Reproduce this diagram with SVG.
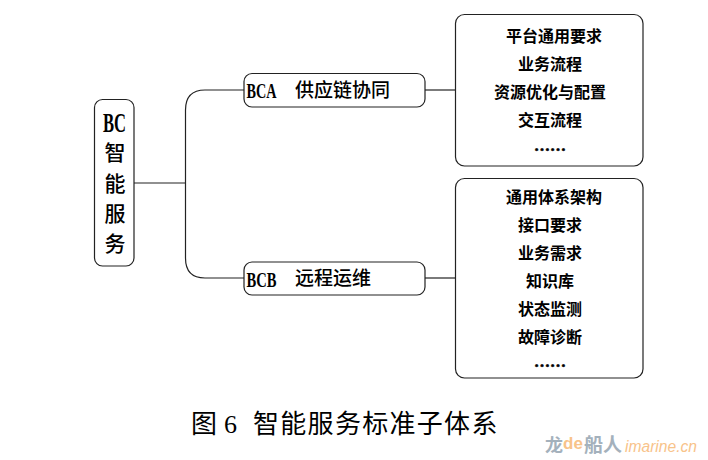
<svg xmlns="http://www.w3.org/2000/svg" width="708" height="460" viewBox="0 0 708 460">
  <style>
    .box { fill: #fff; stroke: #222; stroke-width: 1.2; }
    .link { fill: none; stroke: #222; stroke-width: 1.2; }
    text { font-family: "Noto Sans CJK SC", "Liberation Serif", sans-serif; fill: #000; }
    .latin { font-family: "Liberation Serif", serif; }
    .head { font-size: 21px; font-weight: 500; text-anchor: middle; }
    .branch { font-size: 19px; font-weight: 500; }
    .code { font-size: 21px; font-weight: 700; }
    .item { font-size: 16px; font-weight: 700; text-anchor: middle; }
    .dots { stroke: #000; stroke-width: 0.6; }
    .mark-grey { fill: #a4b1bc; font-weight: 700; }
    .mark-orange { font-family: "Liberation Sans", sans-serif; fill: #f8c38a; }
  </style>
  <rect width="708" height="460" fill="#fff"/>

  <g id="connectors">
    <path class="link" d="M134 183H185.5"/>
    <path class="link" d="M244 90H205Q185.5 90 185.5 110V258Q185.5 278 205 278H244"/>
    <path class="link" d="M425 90H455.5"/>
    <path class="link" d="M425 278H455.5"/>
  </g>

  <g id="node-bc">
    <rect class="box" x="94.5" y="99.5" width="39.5" height="166.5" rx="8"/>
    <text class="latin" x="103" y="132" font-size="27" font-weight="700" textLength="23" lengthAdjust="spacingAndGlyphs">BC</text>
    <text class="head" x="115" y="160">智</text>
    <text class="head" x="115" y="191">能</text>
    <text class="head" x="115" y="221">服</text>
    <text class="head" x="115" y="251">务</text>
  </g>

  <g id="node-bca">
    <rect class="box" x="244" y="73.5" width="181" height="33.5" rx="8"/>
    <text class="code latin" x="246.5" y="98" textLength="30" lengthAdjust="spacingAndGlyphs">BCA</text>
    <text class="branch" x="295" y="97">供应链协同</text>
  </g>

  <g id="node-bcb">
    <rect class="box" x="244" y="262" width="181" height="33" rx="8"/>
    <text class="code latin" x="246.5" y="286.5" textLength="30" lengthAdjust="spacingAndGlyphs">BCB</text>
    <text class="branch" x="295" y="285">远程运维</text>
  </g>

  <g id="node-bca-items">
    <rect class="box" x="455.5" y="14.5" width="187.5" height="151.5" rx="9"/>
    <text class="item" x="554" y="42">平台通用要求</text>
    <text class="item" x="550" y="70">业务流程</text>
    <text class="item" x="550" y="98">资源优化与配置</text>
    <text class="item" x="550" y="126">交互流程</text>
    <text class="item latin dots" x="550" y="151">……</text>
  </g>

  <g id="node-bcb-items">
    <rect class="box" x="455.5" y="178.5" width="187.5" height="199.5" rx="9"/>
    <text class="item" x="554" y="202.5">通用体系架构</text>
    <text class="item" x="550" y="230.5">接口要求</text>
    <text class="item" x="550" y="258.5">业务需求</text>
    <text class="item" x="550" y="286.5">知识库</text>
    <text class="item" x="550" y="314.5">状态监测</text>
    <text class="item" x="550" y="342.5">故障诊断</text>
    <text class="item latin dots" x="550" y="367">……</text>
  </g>

  <g id="caption">
    <text x="191" y="433" font-size="26">图</text>
    <text class="latin" x="224" y="433" font-size="26">6</text>
    <text x="253" y="433" font-size="26" letter-spacing="1.3">智能服务标准子体系</text>
  </g>

  <g id="site-mark">
    <text class="mark-grey" x="545" y="452" font-size="18">龙</text>
    <text class="mark-orange" x="563" y="449" font-size="17" font-weight="700">de</text>
    <text class="mark-grey" x="584" y="452" font-size="19">船人</text>
    <text class="mark-orange" x="625" y="452" font-size="15.6" font-style="italic">imarine.cn</text>
  </g>
</svg>
